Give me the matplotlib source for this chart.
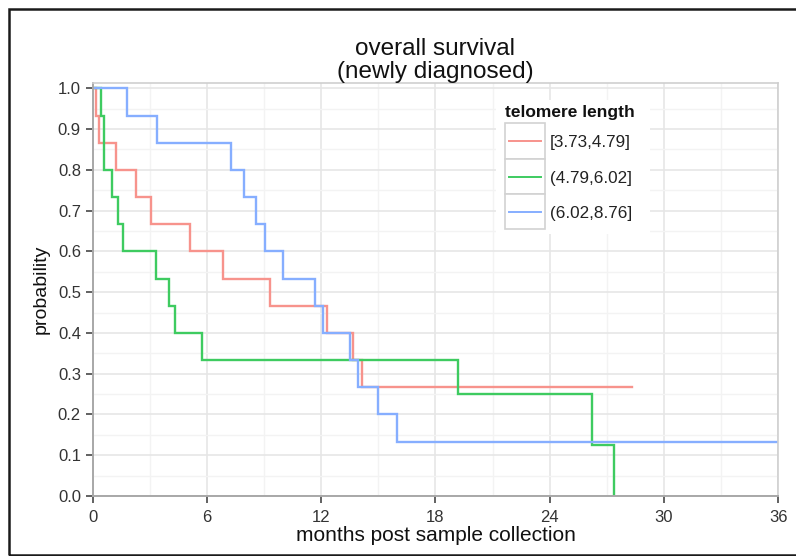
import matplotlib

matplotlib.use("Agg")
import matplotlib.pyplot as plt
from matplotlib.patches import Rectangle
from matplotlib.lines import Line2D

plt.rcParams["font.family"] = ["Liberation Sans", "DejaVu Sans"]

# Kaplan-Meier step curves (months, survival prob)
red_t = [0, 0.17, 0.33, 1.21, 2.26, 3.04, 5.11, 6.82, 9.31, 12.28, 13.68, 14.12, 28.3]
red_s = [1.0, 0.933, 0.867, 0.8, 0.733, 0.667, 0.6, 0.533, 0.467, 0.4, 0.333, 0.267, 0.267]

green_t = [0, 0.42, 0.61, 1.0, 1.34, 1.57, 3.32, 4.02, 4.34, 5.75, 19.19, 26.22, 27.35]
green_s = [1.0, 0.933, 0.8, 0.733, 0.667, 0.6, 0.533, 0.467, 0.4, 0.333, 0.25, 0.125, 0.0]

blue_t = [0, 1.78, 3.36, 7.24, 7.94, 8.57, 9.06, 9.97, 11.69, 12.1, 13.5, 13.94, 14.96, 15.96, 36]
blue_s = [1.0, 0.933, 0.867, 0.8, 0.733, 0.667, 0.6, 0.533, 0.467, 0.4, 0.333, 0.267, 0.2, 0.133, 0.133]

labels = ["[3.73,4.79]", "(4.79,6.02]", "(6.02,8.76]"]
colors = ["#F7938C", "#3ECB60", "#86AEFF"]

x_ticks = [0, 6, 12, 18, 24, 30, 36]
y_ticks = [0.0, 0.1, 0.2, 0.3, 0.4, 0.5, 0.6, 0.7, 0.8, 0.9, 1.0]

W, H = 796, 556
fig = plt.figure(figsize=(W / 100, H / 100), dpi=100)
ax = fig.add_axes([92.7 / W, (H - 496) / H, 685.6 / W, 413 / H])

# grid
ax.set_xticks(x_ticks)
ax.set_xticks([3, 9, 15, 21, 27, 33], minor=True)
ax.set_yticks(y_ticks)
ax.set_yticks([0.05 + 0.1 * i for i in range(10)], minor=True)
ax.set_yticklabels([f"{v:.1f}" for v in y_ticks])
ax.grid(True, which="major", color="#E6E6E6", lw=1.2, zorder=0)
ax.grid(True, which="minor", color="#F3F3F3", lw=1.0, zorder=0)
ax.set_axisbelow(True)

for t, s, c in zip([red_t, green_t, blue_t], [red_s, green_s, blue_s], colors):
    ax.step(t, s, where="post", color=c, lw=1.7, solid_joinstyle="miter")

ax.set_xlim(0, 36)
ax.set_ylim(0, 1.013)

for side in ["top", "right"]:
    ax.spines[side].set_color("#CFCFCF")
    ax.spines[side].set_linewidth(1.2)
for side in ["left", "bottom"]:
    ax.spines[side].set_color("#A8A8A8")
    ax.spines[side].set_linewidth(1.4)
ax.tick_params(which="major", direction="out", length=5, width=1.3, color="#555555",
               labelsize=12, labelcolor="#333333")
ax.tick_params(axis="y", pad=3.5)
ax.tick_params(axis="x", pad=5)
ax.tick_params(which="minor", length=0)

ax.set_title("overall survival\n(newly diagnosed)", fontsize=17.5, linespacing=1.05,
             pad=1, color="#111111")
ax.set_xlabel("months post sample collection", fontsize=15, color="#111111", labelpad=1)
ax.set_ylabel("probability", fontsize=14, color="#111111")
ax.yaxis.set_label_coords((50 - 92.7) / 685.6, 0.5)


# legend, drawn by hand to mimic the boxed keys
def ax_xy(px, py):
    return (px - 92.7) / 685.6, (496 - py) / 413


tr = ax.transAxes
x0, y0 = ax_xy(496, 234)
x1, y1 = ax_xy(650, 100)
ax.add_patch(Rectangle((x0, y0), x1 - x0, y1 - y0, transform=tr, facecolor="white",
                       edgecolor="none", zorder=5))
tx, ty = ax_xy(505, 112.5)
ax.text(tx, ty, "telomere length", transform=tr, fontsize=12.5, fontweight="bold",
        va="center", ha="left", zorder=6, color="#111111")
rows = [123.3, 159.3, 194.3, 229.3]
for i, (lab, c) in enumerate(zip(labels, colors)):
    bx0, by0 = ax_xy(505, rows[i + 1])
    bx1, by1 = ax_xy(545, rows[i])
    ax.add_patch(Rectangle((bx0, by0), bx1 - bx0, by1 - by0, transform=tr,
                           facecolor="white", edgecolor="#D2D2D2", lw=1.2, zorder=6))
    cy = (rows[i] + rows[i + 1]) / 2
    lx0, ly = ax_xy(509, cy)
    lx1, _ = ax_xy(541, cy)
    ax.add_line(Line2D([lx0, lx1], [ly, ly], transform=tr, color=c, lw=1.4, zorder=7))
    tx, ty = ax_xy(550, cy + 1.5)
    ax.text(tx, ty, lab, transform=tr, fontsize=12.3, va="center", ha="left", zorder=7,
            color="#222222")

# outer frame of the figure
fig.patches.append(Rectangle((9 / W, 1 / H), 1.2, (547 - 1) / H, transform=fig.transFigure,
                             facecolor="none", edgecolor="#1A1A1A", lw=1.8))

fig.savefig("out.png", dpi=100)
